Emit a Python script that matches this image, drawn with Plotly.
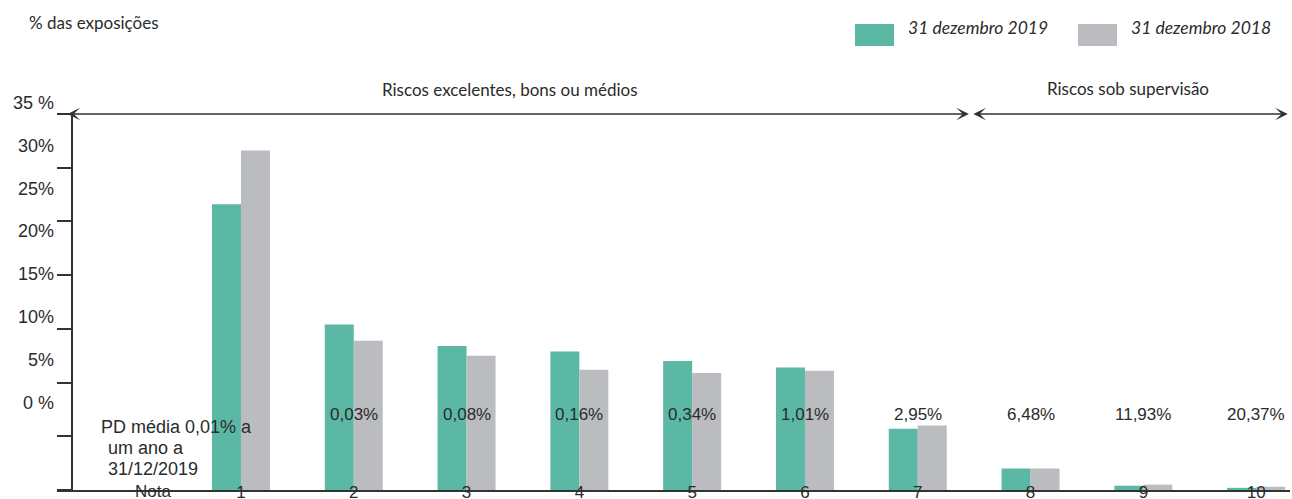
import plotly.graph_objects as go

# Rating grades and exposure shares (% of exposures)
notas = ["1", "2", "3", "4", "5", "6", "7", "8", "9", "10"]
expo_2019 = [26.6, 15.4, 13.4, 12.9, 12.0, 11.4, 5.7, 2.0, 0.4, 0.2]
expo_2018 = [31.6, 13.9, 12.5, 11.2, 10.9, 11.1, 6.0, 2.0, 0.5, 0.3]
pd_media = ["0,01%", "0,03%", "0,08%", "0,16%", "0,34%", "1,01%",
            "2,95%", "6,48%", "11,93%", "20,37%"]
y_ticks = [0, 5, 10, 15, 20, 25, 30, 35]
y_tick_text = ["0 %", "5%", "10%", "15%", "20%", "25%", "30%", "35 %"]

GREEN = "#5bb8a4"
GREY = "#bbbcc0"
INK = "#2b2b2b"
LINE = "#333333"
ARIAL = "Liberation Sans, Arial, sans-serif"
CALIBRI = "Lato, Carlito, Calibri, sans-serif"

W, H = 1292, 499
M = dict(l=57, r=2, t=90, b=9, pad=0)
PW = W - M["l"] - M["r"]
PH = H - M["t"] - M["b"]


def px_x(px):
    return (px - M["l"]) / PW


def px_y(py):
    return (H - M["b"] - py) / PH


xs = list(range(1, len(notas) + 1))

fig = go.Figure()
fig.add_trace(go.Bar(x=xs, y=expo_2019, name="31 dezembro 2019",
                     marker=dict(color=GREEN, line=dict(width=0))))
fig.add_trace(go.Bar(x=xs, y=expo_2018, name="31 dezembro 2018",
                     marker=dict(color=GREY, line=dict(width=0))))
# carrier for the tick-label axis
fig.add_trace(go.Scatter(x=[None], y=[None], yaxis="y2", showlegend=False,
                         hoverinfo="skip"))

y_top_frac = px_y(114)
axis_pos = px_x(72.3)

fig.update_layout(
    width=W, height=H, margin=M,
    paper_bgcolor="white", plot_bgcolor="rgba(0,0,0,0)",
    barmode="group", bargap=0.486, bargroupgap=0,
    showlegend=False,
    xaxis=dict(range=[-0.631, 10.30], anchor="y", showline=True,
               linecolor=LINE, linewidth=1.5, showgrid=False, zeroline=False,
               tickvals=xs, ticktext=notas, ticks="", ticklabelstandoff=-14,
               automargin=False,
               tickfont=dict(family=ARIAL, size=17, color=INK)),
    yaxis=dict(domain=[0, y_top_frac], range=[0, 35], anchor="free",
               position=axis_pos, showline=True, linecolor=LINE, linewidth=1.5,
               ticks="outside", ticklen=15, tickwidth=1.5, tickcolor=LINE,
               tickvals=y_ticks, showticklabels=False, showgrid=False,
               zeroline=False, automargin=False),
    yaxis3=dict(overlaying="y", range=[0, 35], anchor="free",
                position=axis_pos, showline=False, ticks="inside", ticklen=16,
                tickwidth=1.5, tickcolor=LINE, tickvals=y_ticks,
                showticklabels=False, showgrid=False, zeroline=False,
                automargin=False),
    yaxis2=dict(domain=[0, 1], range=[-10.245, 36.48], anchor="free",
                position=0, showline=False, ticks="", tickvals=y_ticks,
                ticktext=y_tick_text, showgrid=False, zeroline=False,
                ticklabelstandoff=3, automargin=False,
                tickfont=dict(family=ARIAL, size=18, color=INK)),
)

annotations = []

# section arrows along the top of the chart
arrow_style = dict(xref="x", yref="y", axref="x", ayref="y", text="",
                   showarrow=True, arrowside="end+start", arrowhead=3,
                   startarrowhead=3, arrowsize=1.4, startarrowsize=1.4,
                   arrowwidth=1.5, arrowcolor=LINE, standoff=0,
                   startstandoff=0)
annotations.append(dict(x=7.454, y=35, ax=-0.551, ay=35, **arrow_style))
annotations.append(dict(x=10.28, y=35, ax=7.48, ay=35, **arrow_style))

head_font = dict(family=CALIBRI, size=17, color=INK)
annotations.append(dict(x=px_x(510), y=px_y(89), xref="paper", yref="paper",
                        text="Riscos excelentes, bons ou médios",
                        showarrow=False, font=head_font,
                        xanchor="center", yanchor="middle"))
annotations.append(dict(x=px_x(1128), y=px_y(88), xref="paper", yref="paper",
                        text="Riscos sob supervisão", showarrow=False,
                        font=head_font, xanchor="center", yanchor="middle"))
annotations.append(dict(x=px_x(27), y=px_y(22), xref="paper", yref="paper",
                        text="% das exposições", showarrow=False,
                        font=head_font, xanchor="left", yanchor="middle"))

# legend
legend_items = [(fig.data[0].name, GREEN, 855), (fig.data[1].name, GREY, 1078)]
shapes = []
for name, color, left in legend_items:
    shapes.append(dict(type="rect", xref="paper", yref="paper",
                       x0=px_x(left), x1=px_x(left + 39),
                       y0=px_y(46), y1=px_y(24),
                       fillcolor=color, line=dict(width=0)))
    annotations.append(dict(x=px_x(left + 51), y=px_y(27), xref="paper",
                            yref="paper", text=f"<i>{name}</i>",
                            showarrow=False, xanchor="left",
                            yanchor="middle",
                            font=dict(family=CALIBRI, size=17.5, color=INK)))

# average PD per grade
pd_y = px_y(414)
for i, (x, pd) in enumerate(zip(xs, pd_media)):
    if i == 0:
        continue
    annotations.append(dict(x=x, y=pd_y, xref="x", yref="paper", text=pd,
                            showarrow=False, xanchor="center",
                            yanchor="middle",
                            font=dict(family=ARIAL, size=17, color=INK)))

pd_font = dict(family=ARIAL, size=18, color=INK)
annotations.append(dict(x=px_x(99), y=px_y(427), xref="paper", yref="paper",
                        text=f"PD média {pd_media[0]} a", showarrow=False,
                        xanchor="left", yanchor="middle", font=pd_font))
annotations.append(dict(x=px_x(106), y=px_y(448), xref="paper", yref="paper",
                        text="um ano a", showarrow=False,
                        xanchor="left", yanchor="middle", font=pd_font))
annotations.append(dict(x=px_x(106), y=px_y(469), xref="paper", yref="paper",
                        text="31/12/2019", showarrow=False,
                        xanchor="left", yanchor="middle", font=pd_font))
annotations.append(dict(x=px_x(153), y=px_y(492), xref="paper", yref="paper",
                        text="Nota", showarrow=False,
                        xanchor="center", yanchor="middle",
                        font=dict(family=ARIAL, size=17, color=INK)))

fig.update_layout(annotations=annotations, shapes=shapes)

fig.write_html("out.html")
